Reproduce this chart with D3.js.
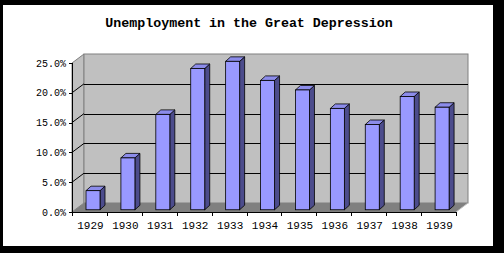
<!DOCTYPE html>
<html>
<head>
<meta charset="utf-8">
<script src="https://cdn.jsdelivr.net/npm/d3@7"></script>
<style>
  body { margin: 0; background: #000; }
  svg { display: block; }
  text { font-family: "Liberation Mono", "DejaVu Sans Mono", monospace; fill: #000; }
</style>
</head>
<body>
<div id="chart"></div>
<script>
// data
const years = ["1929", "1930", "1931", "1932", "1933", "1934", "1935", "1936", "1937", "1938", "1939"];
const rates = [3.2, 8.7, 16.0, 23.7, 24.9, 21.7, 20.1, 17.0, 14.3, 19.0, 17.2];
const yTicks = [0, 5, 10, 15, 20, 25];

const width = 504, height = 253;
const front = { left: 72, right: 456, top: 63, bottom: 212 };
const depth = { dx: 12, dy: -9 };     // offset to back wall
const barDepth = { dx: 5, dy: -4.5 }; // thickness of each column
const barPos = 0.25;                  // where columns sit between front and back

const svg = d3.select("#chart")
  .append("svg")
  .attr("width", width)
  .attr("height", height);

// white chart area on black
svg.append("rect")
  .attr("x", 3).attr("y", 5)
  .attr("width", 490).attr("height", 241)
  .attr("fill", "#fff");

const x = d3.scaleBand().domain(years).range([front.left, front.right]);
const y = d3.scaleLinear().domain([0, 25]).range([front.bottom, front.top]);

const pts = (arr) => arr.map((p) => p.join(",")).join(" ");

// side wall
svg.append("polygon")
  .attr("points", pts([
    [front.left, y(25)],
    [front.left + depth.dx, y(25) + depth.dy],
    [front.left + depth.dx, y(0) + depth.dy],
    [front.left, y(0)]
  ]))
  .attr("fill", "#c0c0c0")
  .attr("stroke", "#808080");

// back wall
svg.append("rect")
  .attr("x", front.left + depth.dx)
  .attr("y", y(25) + depth.dy)
  .attr("width", front.right - front.left)
  .attr("height", y(0) - y(25))
  .attr("fill", "#c0c0c0")
  .attr("stroke", "#808080");

// gridlines on back and side walls
const grid = yTicks.filter((v) => v > 0 && v < 25);
svg.append("g")
  .selectAll("line")
  .data(grid)
  .enter()
  .append("line")
  .attr("x1", front.left + depth.dx)
  .attr("x2", front.right + depth.dx)
  .attr("y1", (d) => Math.round(y(d) + depth.dy) + 0.5)
  .attr("y2", (d) => Math.round(y(d) + depth.dy) + 0.5)
  .attr("stroke", "#000");

svg.append("g")
  .selectAll("line")
  .data(grid)
  .enter()
  .append("line")
  .attr("x1", front.left)
  .attr("x2", front.left + depth.dx)
  .attr("y1", (d) => y(d))
  .attr("y2", (d) => y(d) + depth.dy)
  .attr("stroke", "#000");

// floor
svg.append("polygon")
  .attr("points", pts([
    [front.left, y(0)],
    [front.right, y(0)],
    [front.right + depth.dx, y(0) + depth.dy],
    [front.left + depth.dx, y(0) + depth.dy]
  ]))
  .attr("fill", "#808080");

svg.append("line")
  .attr("x1", front.right).attr("y1", y(0))
  .attr("x2", front.right + depth.dx).attr("y2", y(0) + depth.dy)
  .attr("stroke", "#c0c0c0");

// columns
const bw = 14;
const shiftX = depth.dx * barPos, shiftY = depth.dy * barPos;
const bars = svg.append("g")
  .selectAll("g")
  .data(years.map((yr, i) => ({ yr: yr, v: rates[i] })))
  .enter()
  .append("g");

const bx = (d) => x(d.yr) + 11 + shiftX;
const btop = (d) => y(d.v) + shiftY;
const bbase = y(0) + shiftY;

bars.append("polygon") // side face
  .attr("points", (d) => pts([
    [bx(d) + bw, btop(d)],
    [bx(d) + bw + barDepth.dx, btop(d) + barDepth.dy],
    [bx(d) + bw + barDepth.dx, bbase + barDepth.dy],
    [bx(d) + bw, bbase]
  ]))
  .attr("fill", "#4c4c8c")
  .attr("stroke", "#000")
  .attr("stroke-width", 0.8);

bars.append("polygon") // top face
  .attr("points", (d) => pts([
    [bx(d), btop(d)],
    [bx(d) + barDepth.dx, btop(d) + barDepth.dy],
    [bx(d) + bw + barDepth.dx, btop(d) + barDepth.dy],
    [bx(d) + bw, btop(d)]
  ]))
  .attr("fill", "#8c8cea")
  .attr("stroke", "#000")
  .attr("stroke-width", 0.8);

bars.append("rect") // front face
  .attr("x", bx)
  .attr("y", btop)
  .attr("width", bw)
  .attr("height", (d) => bbase - btop(d))
  .attr("fill", "#9999ff")
  .attr("stroke", "#000")
  .attr("stroke-width", 0.8);

// value axis
svg.append("line")
  .attr("x1", front.left + 0.5).attr("x2", front.left + 0.5)
  .attr("y1", y(25)).attr("y2", y(0))
  .attr("stroke", "#000");

const yAxis = svg.append("g");
yAxis.selectAll("line")
  .data(yTicks)
  .enter()
  .append("line")
  .attr("x1", front.left - 3).attr("x2", front.left)
  .attr("y1", (d) => Math.round(y(d)) + 0.5)
  .attr("y2", (d) => Math.round(y(d)) + 0.5)
  .attr("stroke", "#000");
yAxis.selectAll("text")
  .data(yTicks)
  .enter()
  .append("text")
  .attr("x", 66)
  .attr("y", (d) => y(d) + 3.5)
  .attr("text-anchor", "end")
  .style("font-size", "10px")
  .text((d) => d.toFixed(1) + "%");

// category axis
svg.append("line")
  .attr("x1", front.left).attr("x2", front.right)
  .attr("y1", y(0) + 0.5).attr("y2", y(0) + 0.5)
  .attr("stroke", "#000");

const xAxis = svg.append("g");
xAxis.selectAll("line")
  .data(years.concat(["end"]))
  .enter()
  .append("line")
  .attr("x1", (d, i) => Math.round(front.left + i * x.bandwidth()) + 0.5)
  .attr("x2", (d, i) => Math.round(front.left + i * x.bandwidth()) + 0.5)
  .attr("y1", y(0))
  .attr("y2", y(0) + 4)
  .attr("stroke", "#000");
xAxis.selectAll("text")
  .data(years)
  .enter()
  .append("text")
  .attr("x", (d) => x(d) + x.bandwidth() / 2 + 1)
  .attr("y", 229)
  .attr("text-anchor", "middle")
  .style("font-size", "11px")
  .text((d) => d);

// title
svg.append("text")
  .attr("x", 249)
  .attr("y", 27)
  .attr("text-anchor", "middle")
  .style("font-size", "13.3px")
  .style("font-weight", "bold")
  .text("Unemployment in the Great Depression");
</script>
</body>
</html>
